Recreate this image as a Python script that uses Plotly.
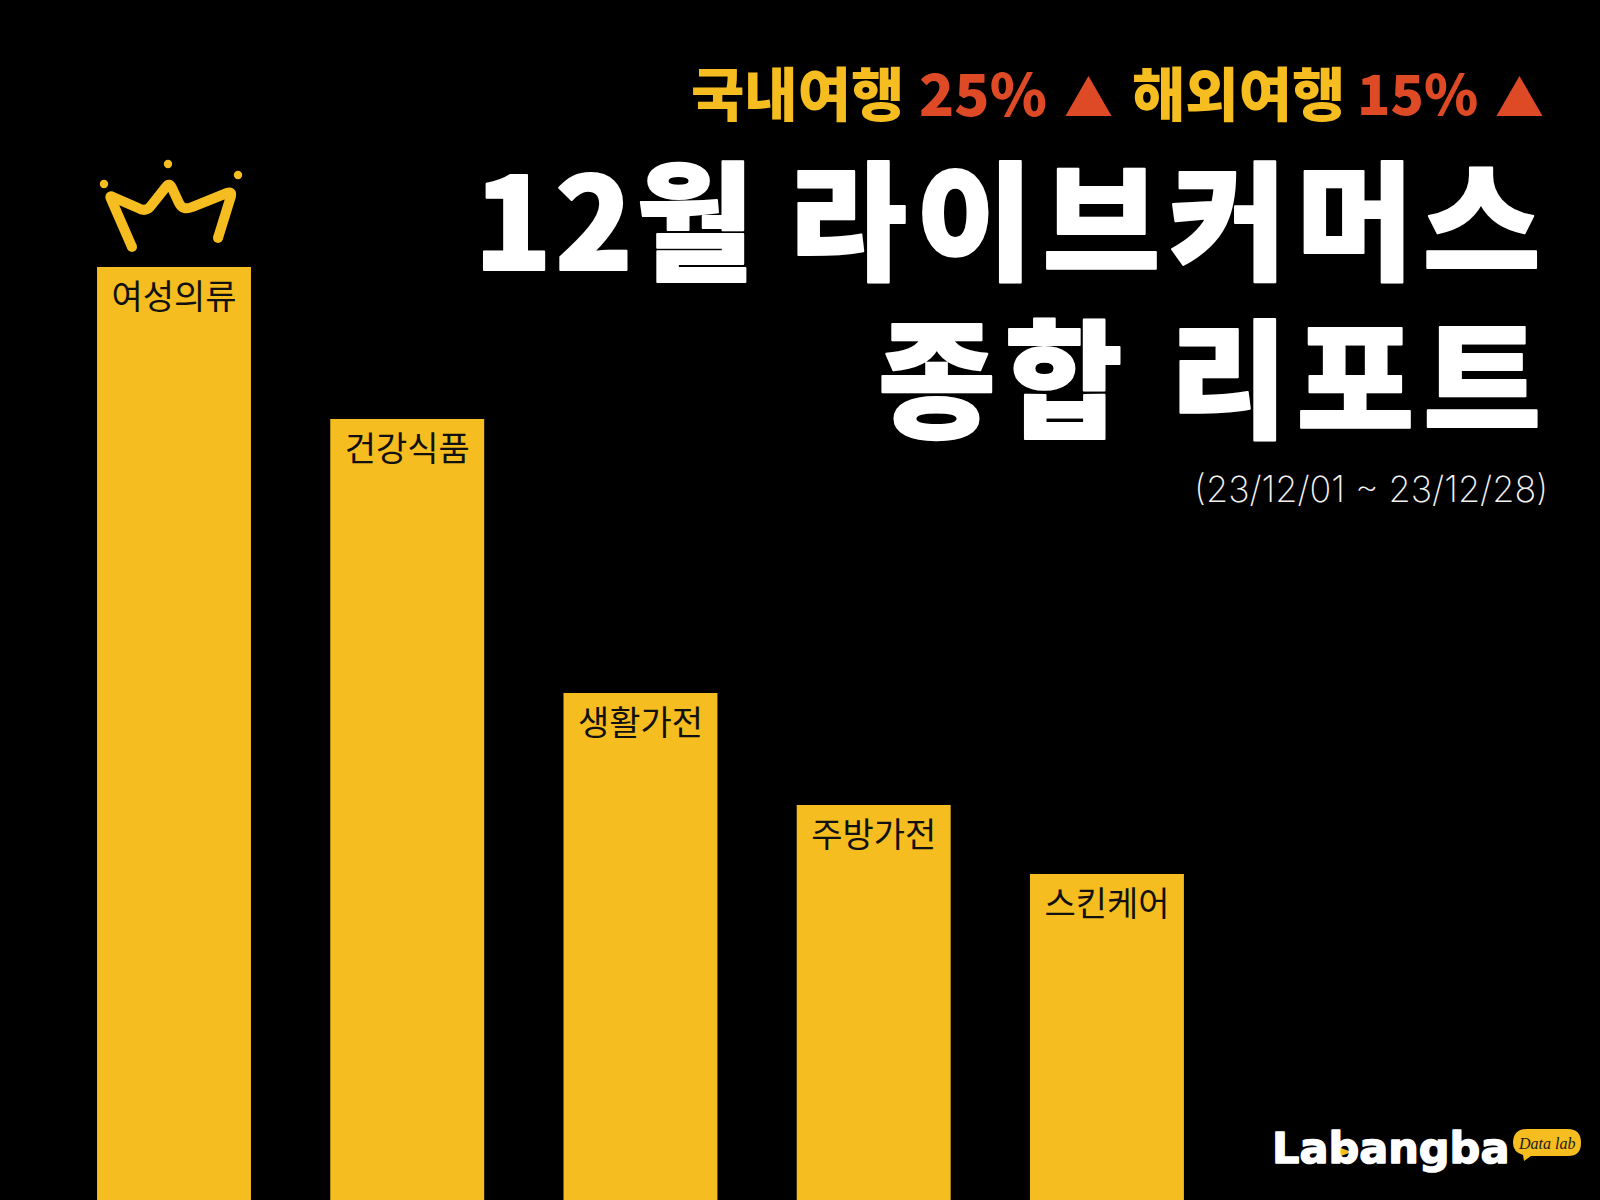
"""Live commerce December report: category bars with headline text."""

import plotly.graph_objects as go

W = 1600
H = 1200
YELLOW = "#F5BD1F"
RED = "#DD4A25"
KR = "Noto Sans CJK KR"

categories = ["여성의류", "건강식품", "생활가전", "주방가전", "스킨케어"]
values = [933, 781, 507, 395, 326]

title_month = "12월"
title_rest = "라이브커머스"
title_second = "종합 리포트"
date_range = "(23/12/01 ~ 23/12/28)"
domestic_label = "국내여행"
domestic_growth = "25%"
overseas_label = "해외여행"
overseas_growth = "15%"
up_mark = "▲"
logo_name = "Labangba"
logo_tag = "Data lab"


def px(x):
    return x / W


def py(y):
    return 1 - y / H


def text(label, x, y, size, color, anchor="right", weight=400, family=KR):
    """Text placed by pixel position from the top left of the page."""
    return dict(
        text=label,
        x=px(x),
        y=py(y),
        xref="paper",
        yref="paper",
        xanchor=anchor,
        yanchor="middle",
        showarrow=False,
        font=dict(size=size, color=color, family=family, weight=weight),
    )


def heavy(label, gap=0, stroke=2, color="white"):
    # the fonts on hand are lighter than the original, so thicken with a stroke
    return (
        f'<span style="letter-spacing:{gap}px;stroke:{color};'
        f'stroke-width:{stroke}px;stroke-linejoin:round">{label}</span>'
    )


def path_shape(path, color, width=0, fill=None):
    return dict(
        type="path",
        path=path,
        xref="paper",
        yref="paper",
        line=dict(color=color, width=width),
        fillcolor=fill,
    )


def dot(x, y, r, color):
    return dict(
        type="circle",
        xref="paper",
        yref="paper",
        x0=px(x - r),
        x1=px(x + r),
        y0=py(y - r),
        y1=py(y + r),
        fillcolor=color,
        line=dict(width=0),
    )


def pts(s):
    """Turn 'M x y L x y' in page pixels into paper coordinates."""
    out = []
    tokens = s.split()
    i = 0
    while i < len(tokens):
        if tokens[i].isalpha():
            out.append(tokens[i])
            i += 1
        else:
            out.append(f"{px(float(tokens[i])):.5f} {py(float(tokens[i + 1])):.5f}")
            i += 2
    return " ".join(out)


fig = go.Figure(
    go.Bar(
        x=categories,
        y=values,
        marker=dict(color=YELLOW, line=dict(width=0)),
        text=categories,
        textposition="inside",
        insidetextanchor="end",
        textangle=0,
        constraintext="none",
        insidetextfont=dict(size=34, color="#111111", family=KR, weight=400),
        hoverinfo="x+y",
    )
)

title_first = heavy(title_month + " ", 3) + heavy(title_rest, 9)

annotations = [
    text(domestic_label, 906, 91, 58, YELLOW, weight=900),
    text(domestic_growth, 1049, 91, 58, RED, weight=900),
    text(up_mark, 1115, 95, 49, RED, weight=900),
    text(overseas_label, 1347, 91, 58, YELLOW, weight=900),
    text(overseas_growth, 1480, 91, 55, RED, weight=900),
    text(up_mark, 1546, 95, 49, RED, weight=900),
    text(title_first, 1552, 214, 128, "white", weight=900),
    text(heavy(title_second, 9), 1552, 373, 128, "white", weight=900),
    text(date_range, 1550, 489, 36, "#F2F2F2", weight=200, family="Inter"),
    text(
        heavy(logo_name, 0, 1.5),
        1270,
        1148,
        43,
        "white",
        anchor="left",
        weight=700,
        family="DejaVu Sans",
    ),
    text(f"<i>{logo_tag}</i>", 1546, 1143, 16, "#1A1A1A", anchor="center", family="Liberation Serif"),
]

shapes = [
    # crown
    path_shape(
        pts(
            "M 132 247 L 111 199 Q 109 195 113 197 L 138 208 Q 145 212 150 207 "
            "L 166 187 Q 169 182 172 188 L 179 203 Q 183 211 192 207 L 227 193 "
            "Q 232 191 231 196 L 218 238"
        ),
        YELLOW,
        width=10,
    ),
    dot(132, 247, 5, YELLOW),
    dot(218, 238, 5, YELLOW),
    dot(104, 184, 4.2, YELLOW),
    dot(168, 164, 4.2, YELLOW),
    dot(238, 175, 4.2, YELLOW),
    # logo speech bubble and play mark
    path_shape(
        pts(
            "M 1527 1129 L 1568 1129 Q 1581 1129 1581 1143 Q 1581 1156 1568 1156 "
            "L 1531 1156 L 1524 1161 L 1523 1155 Q 1513 1152 1513 1143 Q 1513 1129 1527 1129 Z"
        ),
        YELLOW,
        fill=YELLOW,
    ),
    path_shape(pts("M 1338 1147 L 1352 1152 L 1338 1157 Z"), YELLOW, fill=YELLOW),
]

fig.update_layout(
    width=W,
    height=H,
    margin=dict(l=0, r=0, t=0, b=0),
    paper_bgcolor="black",
    plot_bgcolor="black",
    showlegend=False,
    bargap=0.34,
    xaxis=dict(visible=False, range=[-0.746, 6.114]),
    yaxis=dict(visible=False, range=[0, H]),
    annotations=annotations,
    shapes=shapes,
)

# drop the browser's default page margin so the figure fills the window
fig.write_html(
    "out.html",
    config={"displayModeBar": False},
    post_script="document.body.style.margin='0';document.body.style.background='black';",
)
